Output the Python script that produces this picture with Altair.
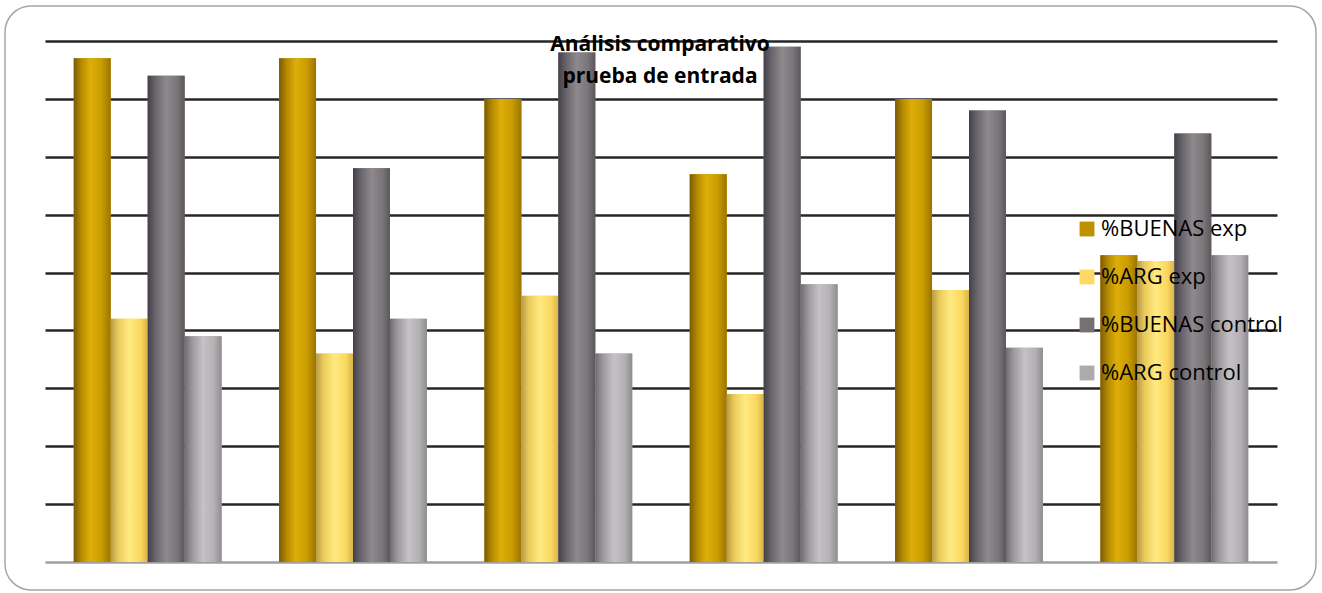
import altair as alt
import pandas as pd

groups = ["G1", "G2", "G3", "G4", "G5", "G6"]
series = ["%BUENAS exp", "%ARG exp", "%BUENAS control", "%ARG control"]
buenas_exp = [87, 87, 80, 67, 80, 53]
arg_exp = [42, 36, 46, 29, 47, 52]
buenas_ctrl = [84, 68, 88, 89, 78, 74]
arg_ctrl = [39, 42, 36, 48, 37, 53]
legend_colors = ["#BF9000", "#FFD966", "#767171", "#AEAAAA"]

rows = []
for s, vals in zip(series, [buenas_exp, arg_exp, buenas_ctrl, arg_ctrl]):
    for g, v in zip(groups, vals):
        rows.append({"grupo": g, "serie": s, "valor": v})
df = pd.DataFrame(rows)

gradients = {
    "%BUENAS exp": [("#7A5A08", 0.0), ("#B48A00", 0.2), ("#DDAE0A", 0.45), ("#C99C00", 0.75), ("#9C7400", 1.0)],
    "%ARG exp": [("#B89A48", 0.0), ("#EACB5A", 0.2), ("#FFEA80", 0.5), ("#FBD860", 0.8), ("#D8B448", 1.0)],
    "%BUENAS control": [("#444049", 0.0), ("#67636A", 0.2), ("#8E898C", 0.5), ("#7A7578", 0.8), ("#5A5659", 1.0)],
    "%ARG control": [("#6E6C6E", 0.0), ("#9A989A", 0.2), ("#C4C2C4", 0.5), ("#B2B0B2", 0.8), ("#8E8C8E", 1.0)],
}

x_enc = alt.X("grupo:N", sort=groups,
              scale=alt.Scale(paddingInner=0.28, paddingOuter=0.14),
              axis=alt.Axis(title=None, labels=False, ticks=False, domain=False))
xo_enc = alt.XOffset("serie:N", sort=series)
y_enc = alt.Y("valor:Q",
              scale=alt.Scale(domain=[0, 90], nice=False),
              axis=alt.Axis(title=None, labels=False, ticks=False, domain=False,
                            values=list(range(0, 91, 10)), grid=True,
                            gridColor=alt.condition("datum.value == 0", alt.value("#A0A0A0"), alt.value("#262626")),
                            gridWidth=2.5))

base = alt.Chart(df).mark_bar().encode(
    x=x_enc, xOffset=xo_enc, y=y_enc,
    color=alt.Color("serie:N", sort=series,
                    scale=alt.Scale(domain=series, range=legend_colors),
                    legend=alt.Legend(title=None, orient="none", legendX=1031, legendY=177,
                                      symbolType="square", symbolSize=220, symbolStrokeWidth=0,
                                      labelFontSize=22, labelFont="Open Sans", labelColor="#000000",
                                      rowPadding=26, labelOffset=3, labelLimit=300))
)

layers = [base]
for s in series:
    stops = [alt.GradientStop(color=c, offset=o) for c, o in gradients[s]]
    layers.append(
        alt.Chart(df).transform_filter(alt.datum.serie == s).mark_bar(
            color=alt.Gradient(gradient="linear", stops=stops, x1=0, x2=1, y1=0, y2=0)
        ).encode(x=x_enc, xOffset=xo_enc, y=y_enc)
    )

title_layer = alt.Chart(alt.Data(values=[{}])).mark_text(
    text="Análisis comparativo\nprueba de entrada", lineBreak="\n",
    font="Open Sans", fontWeight="bold", fontSize=21, lineHeight=32,
    baseline="middle", align="center", color="#000000"
).encode(x=alt.value(615), y=alt.value(4))

frame = alt.Chart(alt.Data(values=[{}])).mark_rect(
    fill=None, stroke="#A6A6A6", strokeWidth=1.5, cornerRadius=26
).encode(x=alt.value(-40), x2=alt.value(1271), y=alt.value(-35), y2=alt.value(549))

chart = alt.layer(frame, *layers, title_layer).properties(
    width=1232, height=521,
    autosize=alt.AutoSizeParams(type="none"),
    padding={"left": 45, "top": 41, "right": 45, "bottom": 31},
    background="#FFFFFF"
).configure_view(stroke=None)

chart.save("out.html", embed_options={"renderer": "svg", "actions": False})
